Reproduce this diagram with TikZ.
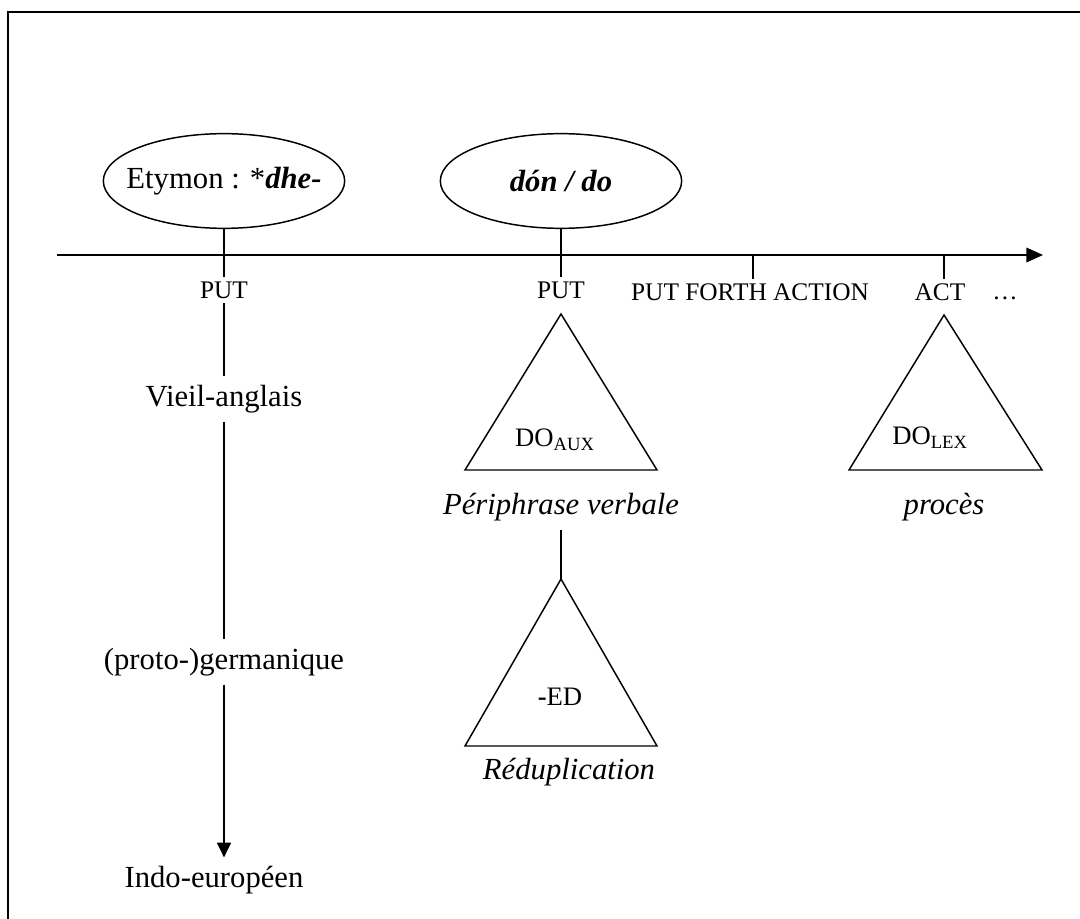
\documentclass[tikz,border=0pt]{standalone}
\usepackage{fontspec}
\setmainfont{Liberation Serif}
\usetikzlibrary{arrows.meta,shapes.geometric}

\tikzset{every picture/.style={line width=1.1pt}}
\tikzset{
  bigtxt/.style={font=\fontsize{23}{27}\selectfont, inner sep=6pt},
  smalltxt/.style={font=\fontsize{19}{22}\selectfont, inner sep=3pt},
  dotxt/.style={font=\fontsize{20}{24}\selectfont, inner sep=2pt},
  oval/.style={draw, ellipse, minimum width=181pt, minimum height=71pt,
    inner xsep=-11pt, inner ysep=0pt, font=\fontsize{23}{27}\selectfont},
  timearrow/.style={-{Triangle[length=12.5pt,width=11pt]}},
  downarrow/.style={-{Triangle[length=11pt,width=10.5pt]}}
}

\begin{document}
\begin{tikzpicture}[x=0.75pt,y=0.75pt,yscale=-1,xscale=1]
\useasboundingbox (0,0) rectangle (1080,919);

%Shape: Frame
\draw [line width=1.2pt] (1080,12) -- (8,12) -- (8,919);

%Shape: Time axis
\coordinate (ax0) at (57,255);
\coordinate (ax1) at (1043,255);
\draw [timearrow] (ax0) -- (ax1);

%Shape: Ellipses
\node [oval] (ety) at (224,181) {Etymon : *\textbf{\textit{dhe-}}};
\node [oval] (don) at (561,181) {\textbf{\textit{dón / do}}};

% Text Node
\node [smalltxt] (put1) at (224,290) {PUT};
\node [smalltxt] (put2) at (561,290) {PUT};
\node [smalltxt] (pfa) at (750,292) {PUT FORTH ACTION};
\node [smalltxt] (act) at (940,292) {ACT};
\node [smalltxt, anchor=base] (dots) at (1005,300) {\ldots};

% Text Node
\node [bigtxt] (vieil) at (224,399) {Vieil-anglais};
\node [bigtxt] (germ) at (224,662) {(proto-)germanique};
\node [bigtxt] (indo) at (214,880) {Indo-européen};

%Straight Lines
\draw (ety.south) -- (put1.north);
\draw (put1.south) -- (vieil.north);
\draw (vieil.south) -- (germ.north);
\draw [downarrow] (germ.south) -- (germ.south |- indo.north);
\draw (don.south) -- (put2.north);

%Ticks on the axis
\coordinate (tk1) at (753,255);
\coordinate (tk2) at (944,255);
\draw (tk1) -- (tk1 |- pfa.north);
\draw (tk2) -- (tk2 |- act.north);

%Shape: Triangle DO aux
\coordinate (t1) at (561,314);
\draw (t1) -- (657,470) -- (465,470) -- cycle;
\node [dotxt] (doaux) at (555,440) {DO\textsubscript{AUX}};
\node [bigtxt] (periph) at (561,507) {\textit{Périphrase verbale}};

%Shape: Triangle ED
\coordinate (t2) at (561,579);
\draw (periph.south) -- (t2);
\draw (t2) -- (657,746) -- (465,746) -- cycle;
\node [dotxt] (ed) at (560,697) {\textbf{-}ED};
\node [bigtxt] (redup) at (569,772) {\textit{Réduplication}};

%Shape: Triangle DO lex
\coordinate (t3) at (944,315);
\draw (t3) -- (1042,470) -- (849,470) -- cycle;
\node [dotxt] (dolex) at (930,438) {DO\textsubscript{LEX}};
\node [bigtxt] (proces) at (944,507) {\textit{procès}};

\end{tikzpicture}
\end{document}
